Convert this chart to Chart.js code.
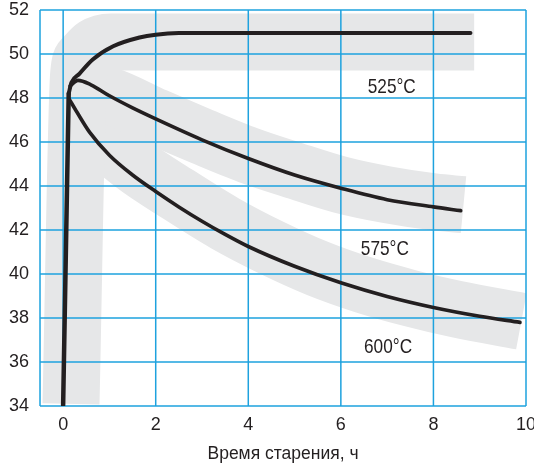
<!DOCTYPE html>
<html>
<head>
<meta charset="utf-8">
<script src="https://cdn.jsdelivr.net/npm/chart.js@4.4.1/dist/chart.umd.min.js"></script>
<style>
html,body{margin:0;padding:0;background:#fff;}
#wrap{width:534px;height:466px;}
</style>
</head>
<body>
<div id="wrap"><canvas id="c" width="534" height="466"></canvas></div>
<script>
// ---- tick values ----
const xTickValues = [0, 2, 4, 6, 8, 10];
const yTickValues = [34, 36, 38, 40, 42, 44, 46, 48, 50, 52];

// ---- black curves ----
const riseX = [0.0, 0.12];
const riseY = [34.05, 48.2];

const t525 = [0.12, 0.18, 0.35, 0.64, 1.08, 1.65, 2.0, 2.5, 3.5, 6.0, 8.8];
const v525 = [48.2, 48.7, 49.1, 49.75, 50.35, 50.75, 50.88, 50.95, 50.95, 50.95, 50.95];

const t575 = [0.15, 0.32, 0.6, 1.0, 1.5, 2.0, 3.0, 4.0, 5.0, 6.0, 7.0, 8.0, 8.59];
const v575 = [48.55, 48.8, 48.6, 48.1, 47.55, 47.05, 46.1, 45.25, 44.5, 43.9, 43.38, 43.05, 42.88];

const t600 = [0.13, 0.3, 0.57, 1.0, 1.5, 2.0, 2.5, 3.0, 3.5, 4.0, 5.0, 6.0, 7.0, 8.0, 9.0, 9.87];
const v600 = [47.95, 47.35, 46.45, 45.4, 44.5, 43.75, 43.05, 42.4, 41.8, 41.25, 40.35, 39.6, 38.98, 38.48, 38.08, 37.8];

// ---- grey scatter bands ----
const tBand525 = [0.17, 0.335, 0.43, 0.68, 1.03, 3.0, 8.88];
const vBand525 = [34.1, 49.1, 49.82, 50.35, 50.55, 50.55, 50.55];

const tBand575 = [0.3, 1.0, 2.0, 3.0, 4.0, 5.0, 6.0, 7.0, 8.0, 8.65];
const vBand575 = [48.4, 48.1, 47.15, 46.25, 45.4, 44.7, 44.05, 43.6, 43.28, 43.15];

const tBand600 = [0.3, 0.8, 1.5, 2.5, 3.5, 4.5, 5.5, 6.5, 7.5, 8.5, 9.9];
const vBand600 = [47.6, 46.3, 45.0, 43.6, 42.3, 41.2, 40.25, 39.5, 38.9, 38.4, 37.85];

// ---- curve labels ----
const labelText = ['525\u00B0C', '575\u00B0C', '600\u00B0C'];
const labelX = [7.1, 6.95, 7.02];
const labelY = [48.47, 41.12, 36.67];

const xTitle = 'Время старения, ч';

const pts = (xs, ys) => xs.map((x, i) => ({x: x, y: ys[i]}));

const BLACK = '#231f20';
const GREY = '#e6e7e8';
const GRID = '#1ea2de';
const FONT = '"Liberation Sans", Arial, sans-serif';

const curve = (xs, ys, w) => ({
  data: pts(xs, ys), borderColor: BLACK, borderWidth: w, pointRadius: 0,
  cubicInterpolationMode: 'monotone', borderCapStyle: 'round', borderJoinStyle: 'round', fill: false
});
const band = (xs, ys) => ({
  data: pts(xs, ys), borderColor: GREY, borderWidth: 57, pointRadius: 0,
  cubicInterpolationMode: 'monotone', borderCapStyle: 'butt', borderJoinStyle: 'round', fill: false, clip: 0
});

const datasets = [
  Object.assign(curve(riseX, riseY, 4.5), {tension: 0, cubicInterpolationMode: 'default'}),
  curve(t525, v525, 4),
  curve(t575, v575, 3.6),
  curve(t600, v600, 3.6),
  band(tBand525, vBand525),
  band(tBand575, vBand575),
  band(tBand600, vBand600)
];
const curveCount = 4;

const gridPlugin = {
  id: 'gridUnderCurves',
  beforeDatasetDraw(chart, args) {
    if (args.index !== curveCount - 1) return;
    const {ctx, chartArea: a, scales: {x, y}} = chart;
    ctx.save();
    ctx.strokeStyle = GRID;
    ctx.lineWidth = 1.5;
    ctx.beginPath();
    xTickValues.forEach(v => { const p = x.getPixelForValue(v); ctx.moveTo(p, a.top); ctx.lineTo(p, a.bottom); });
    yTickValues.forEach(v => { const p = y.getPixelForValue(v); ctx.moveTo(a.left, p); ctx.lineTo(a.right, p); });
    ctx.moveTo(a.left, a.top); ctx.lineTo(a.left, a.bottom);
    ctx.moveTo(a.left, a.bottom); ctx.lineTo(a.right, a.bottom);
    ctx.stroke();
    ctx.restore();
  }
};

const labelPlugin = {
  id: 'curveLabels',
  afterDatasetsDraw(chart) {
    const {ctx, scales: {x, y}} = chart;
    labelText.forEach((t, i) => {
      ctx.save();
      ctx.fillStyle = BLACK;
      ctx.font = '21px ' + FONT;
      ctx.textAlign = 'center';
      ctx.textBaseline = 'middle';
      ctx.translate(x.getPixelForValue(labelX[i]), y.getPixelForValue(labelY[i]));
      ctx.scale(0.82, 1);
      ctx.fillText(t, 0, 0);
      ctx.restore();
    });
  }
};

new Chart(document.getElementById('c'), {
  type: 'line',
  data: {datasets: datasets},
  options: {
    responsive: false,
    animation: false,
    devicePixelRatio: 1,
    layout: {padding: {top: 10, right: 8, left: 0, bottom: 0}},
    plugins: {legend: {display: false}, tooltip: {enabled: false}},
    scales: {
      x: {
        type: 'linear', min: -0.5, max: 10,
        afterBuildTicks: s => { s.ticks = xTickValues.map(v => ({value: v})); },
        afterFit: s => { s.height = 60; s.paddingLeft = 0; s.paddingRight = 0; },
        grid: {display: false, drawTicks: false},
        border: {display: false},
        ticks: {color: BLACK, padding: 8, maxRotation: 0, autoSkip: false,
                font: {family: FONT, size: 18}},
        title: {display: true, text: xTitle, color: BLACK, padding: {top: 0, bottom: 1},
                font: {family: FONT, size: 17.5, lineHeight: 1.2}}
      },
      y: {
        type: 'linear', min: 34, max: 52,
        afterBuildTicks: s => { s.ticks = yTickValues.map(v => ({value: v})); },
        afterFit: s => { s.width = 40; s.paddingTop = 0; s.paddingBottom = 0; },
        grid: {display: false, drawTicks: false},
        border: {display: false},
        ticks: {color: BLACK, padding: 11, autoSkip: false,
                font: {family: FONT, size: 18}}
      }
    }
  },
  plugins: [gridPlugin, labelPlugin]
});
</script>
</body>
</html>
